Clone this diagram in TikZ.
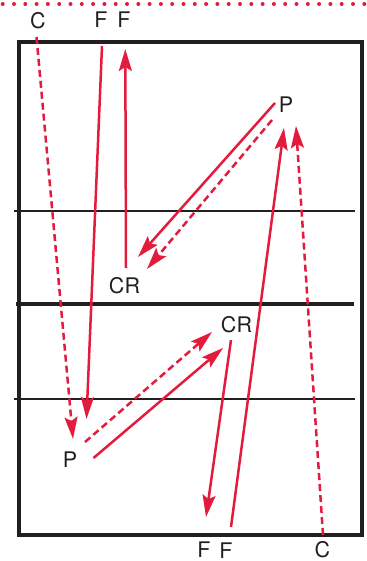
\documentclass[tikz,border=0pt]{standalone}
\usepackage{fontspec}
\setmainfont{TeX Gyre Heros}
\usetikzlibrary{arrows.meta}
\definecolor{cred}{HTML}{E31C3D}
\definecolor{cblk}{HTML}{231F20}
\begin{document}
\begin{tikzpicture}[x=1pt,y=-1pt,
  lbl/.style={font=\fontsize{21.5}{21.5}\selectfont, text=cblk, inner sep=0pt},
  tip/.style={-{Stealth[length=22pt,width=13pt,inset=4pt]}},
  run/.style={cred, line width=2.5pt, tip},
  ball/.style={cred, line width=2.5pt, dash pattern=on 7pt off 4pt, tip},
  court/.style={cblk, line width=4.5pt},
  thin/.style={cblk, line width=2.2pt}
]
\useasboundingbox (0,0) rectangle (366,561);
% top dotted line
\draw[cred, line width=4pt, line cap=round, dash pattern=on 0pt off 11.3pt] (2.7,4) -- (366,4);
% court
\draw[court] (19,42) rectangle (362,535);
\draw[court] (16,304) -- (354,304);
\draw[thin] (14,211) -- (355,211);
\draw[thin] (14,399) -- (355,399);
% labels
\node[lbl] (c1) at (38,21) {C};
\node[lbl] (f1) at (101,20) {F};
\node[lbl] (f2) at (124,20) {F};
\node[lbl] (p1) at (286,105) {P};
\node[lbl] (cr1) at (124.5,286) {CR};
\node[lbl] (cr2) at (236.5,325) {CR};
\node[lbl] (p2) at (70,460) {P};
\node[lbl] (f3) at (204,549.5) {F};
\node[lbl] (f4) at (226,551) {F};
\node[lbl] (c2) at (322.5,550) {C};
% arrow end points
\coordinate (a1s) at (36.5,37);   \coordinate (a1e) at (73,439);
\coordinate (a2s) at (102,46);    \coordinate (a2e) at (86.5,419);
\coordinate (a3s) at (126,268);   \coordinate (a3e) at (125.3,49);
\coordinate (a4s) at (275,103);   \coordinate (a4e) at (138,257);
\coordinate (a5s) at (272,120);   \coordinate (a5e) at (147,269);
\coordinate (a6s) at (85,442);    \coordinate (a6e) at (212,332);
\coordinate (a7s) at (93.5,458);  \coordinate (a7e) at (223,348);
\coordinate (a8s) at (231,340);   \coordinate (a8e) at (206,517);
\coordinate (a9s) at (231,527);   \coordinate (a9e) at (284,128);
\coordinate (a10s) at (323,535);  \coordinate (a10e) at (296,126);
% arrows
\draw[ball] (a1s) -- (a1e);
\draw[run] (a2s) -- (a2e);
\draw[run] (a3s) -- (a3e);
\draw[run] (a4s) -- (a4e);
\draw[ball] (a5s) -- (a5e);
\draw[ball] (a6s) -- (a6e);
\draw[run] (a7s) -- (a7e);
\draw[run] (a8s) -- (a8e);
\draw[run] (a9s) -- (a9e);
\draw[ball] (a10s) -- (a10e);
\end{tikzpicture}
\end{document}
